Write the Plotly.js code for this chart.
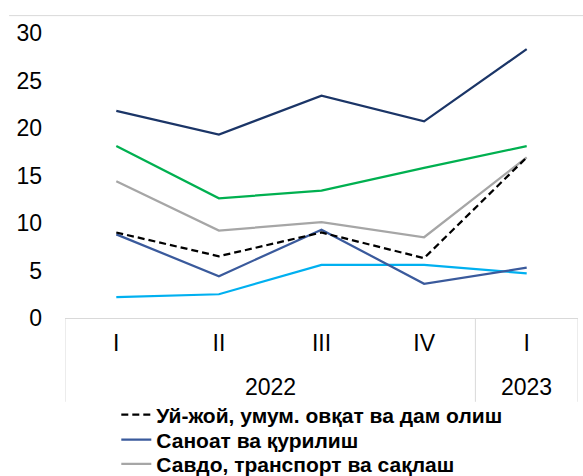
<!DOCTYPE html>
<html>
<head>
<meta charset="utf-8">
<script src="https://cdn.plot.ly/plotly-3.0.1.min.js"></script>
<style>
  html, body { margin: 0; padding: 0; background: #fff; }
  #chart { width: 583px; height: 476px; }
</style>
</head>
<body>
<div id="chart"></div>
<script>
// quarters with year groups
var years = ['2022', '2022', '2022', '2022', '2023'];
var quarters = ['I', 'II', 'III', 'IV', 'I'];

var housing = [9.0, 6.5, 9.0, 6.3, 16.9];        // dashed black
var industry = [8.8, 4.4, 9.3, 3.6, 5.3];        // blue
var trade = [14.4, 9.2, 10.1, 8.5, 16.9];        // grey
var topSeries = [21.8, 19.3, 23.4, 20.7, 28.3];  // navy
var greenSeries = [18.1, 12.6, 13.4, 15.8, 18.1];
var cyanSeries = [2.2, 2.5, 5.6, 5.6, 4.7];

var idx = quarters.map(function(q, i) { return i; });

function line(y, name, color, dash, legendId) {
  return {
    x: idx, y: y, type: 'scatter', mode: 'lines', name: name,
    line: {color: color, width: 2.25, dash: dash || 'solid'},
    showlegend: !!legendId, legend: legendId || 'legend',
    hoverinfo: 'y+name'
  };
}

var data = [
  line(topSeries, 'Хизматлар', '#1B3567'),
  line(greenSeries, 'Қишлоқ хўжалиги', '#00B050'),
  line(cyanSeries, 'Бошқалар', '#00B0F0'),
  line(trade, 'Савдо, транспорт ва сақлаш', '#A6A6A6', null, 'legend3'),
  line(industry, 'Саноат ва қурилиш', '#3A5A9C', null, 'legend2'),
  line(housing, 'Уй-жой, умум. овқат ва дам олиш', '#000000', '7px,4px', 'legend')
];

// year groups -> divider positions and centred labels
var dividers = [-0.5];
var annotations = [];
var start = 0;
for (var i = 1; i <= years.length; i++) {
  if (i === years.length || years[i] !== years[i - 1]) {
    dividers.push(i - 0.5);
    annotations.push({
      text: years[start], x: (start + i - 1) / 2, xref: 'x',
      y: -0.242, yref: 'paper', yanchor: 'middle', showarrow: false,
      font: {size: 23, color: '#000'}
    });
    start = i;
  }
}

var shapes = dividers.map(function(d) {
  return {type: 'line', xref: 'x', yref: 'paper', x0: d, x1: d, y0: 0, y1: -0.294,
          line: {color: '#D9D9D9', width: 1}};
});
shapes.push({
  type: 'line', xref: 'paper', yref: 'paper',
  x0: -0.109, x1: 1.01, y0: 1.061, y1: 1.061,
  line: {color: '#D9D9D9', width: 1}
});

function legendAt(y) {
  return {
    x: 0.1, xanchor: 'left', y: y, yanchor: 'middle',
    font: {size: 21, weight: 'bold', color: '#000'},
    bgcolor: 'rgba(0,0,0,0)', borderwidth: 0
  };
}

var layout = {
  width: 583, height: 476,
  margin: {l: 65, r: 5, t: 32.5, b: 158, autoexpand: false},
  paper_bgcolor: '#fff', plot_bgcolor: '#fff',
  font: {family: 'Liberation Sans, Arial, sans-serif', color: '#000'},
  showlegend: true,
  legend: legendAt(-0.340),
  legend2: legendAt(-0.428),
  legend3: legendAt(-0.513),
  xaxis: {
    range: [-0.5, 4.5], tickvals: idx, ticktext: quarters,
    showline: true, linecolor: '#D9D9D9', linewidth: 1,
    showgrid: false, zeroline: false, ticks: '',
    tickfont: {size: 23}, ticklabelstandoff: 4
  },
  yaxis: {
    range: [0, 30], dtick: 5, tick0: 0,
    showgrid: false, zeroline: false, showline: false, ticks: '',
    tickfont: {size: 23},
    ticklabelstandoff: 22
  },
  shapes: shapes,
  annotations: annotations
};

Plotly.newPlot('chart', data, layout, {displayModeBar: false, staticPlot: true});
</script>
</body>
</html>
